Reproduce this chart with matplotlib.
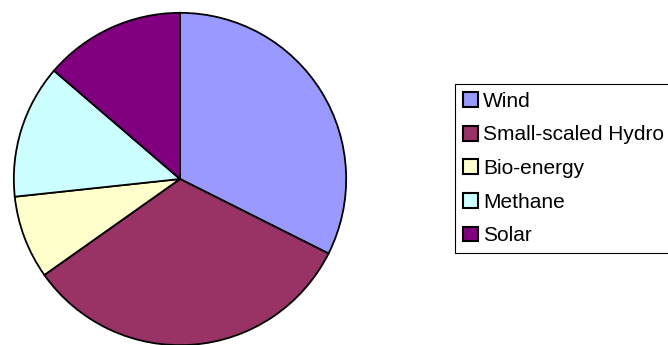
import matplotlib
matplotlib.use("Agg")
import matplotlib.pyplot as plt

# share of each source (percent)
labels = ["Wind", "Small-scaled Hydro", "Bio-energy", "Methane", "Solar"]
shares = [32.4, 32.8, 8.1, 13.0, 13.7]
colors = ["#9999FF", "#993366", "#FFFFCC", "#CCFFFF", "#800080"]

plt.rcParams["font.family"] = ["Liberation Sans", "DejaVu Sans"]

fig = plt.figure(figsize=(6.68, 3.45), dpi=100)
ax = fig.add_axes([13 / 668, -1 / 345, 334 / 668, 334 / 345])
wedges, _ = ax.pie(
    shares, colors=colors, startangle=90, counterclock=False, radius=1,
    wedgeprops={"edgecolor": "black", "linewidth": 1.3},
)
ax.set_xlim(-1.005, 1.005)
ax.set_ylim(-1.005, 1.005)
ax.set_aspect("equal")
ax.axis("off")

# legend box runs past the right edge of the figure, as in the original
leg = fig.legend(
    wedges, labels, loc="upper left", bbox_to_anchor=(455 / 668, 1 - 84 / 345),
    borderaxespad=0, fontsize=15, frameon=True, fancybox=False,
    edgecolor="black", framealpha=1, borderpad=0.38, labelspacing=0.70,
    handlelength=0.72, handleheight=0.72, handletextpad=0.25,
)
leg.get_frame().set_linewidth(0.8)
for h in leg.legend_handles:
    h.set_linewidth(1.5)

fig.savefig("out.png", dpi=100)
